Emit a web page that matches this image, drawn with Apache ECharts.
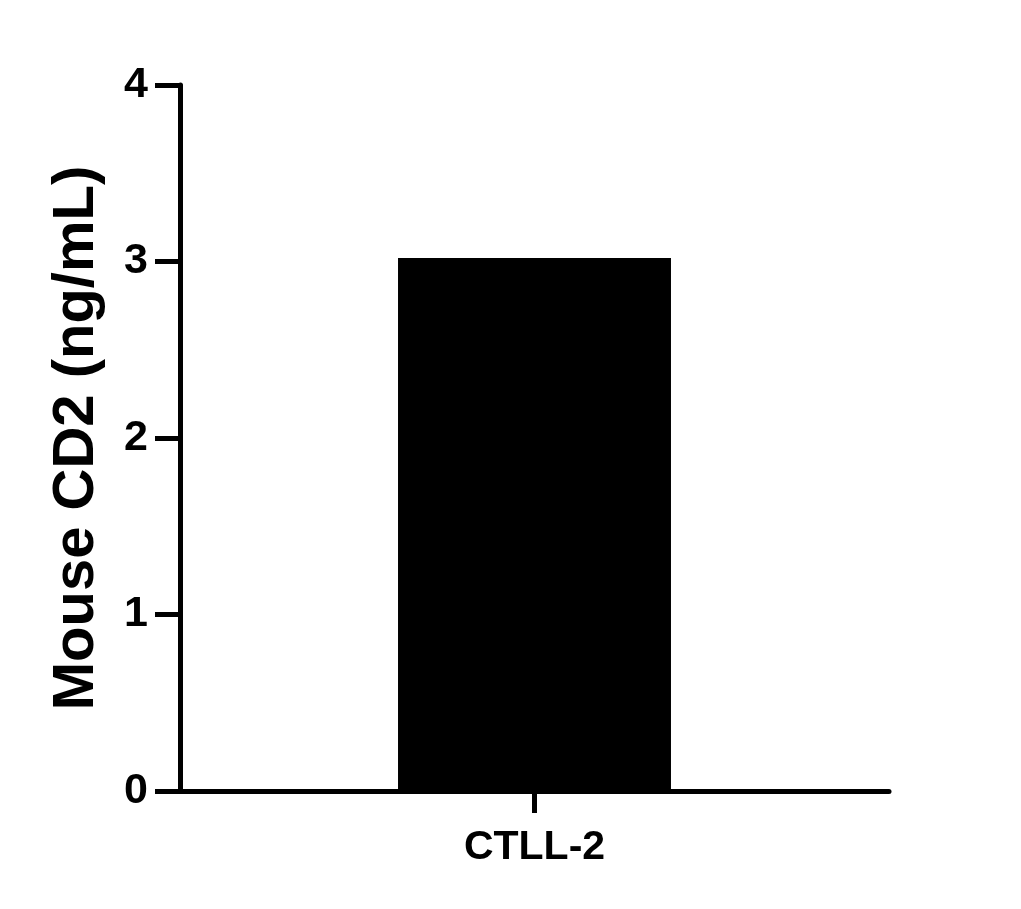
<!DOCTYPE html>
<html>
<head>
<meta charset="utf-8">
<script src="https://cdn.jsdelivr.net/npm/echarts@6/dist/echarts.min.js"></script>
<style>html,body{margin:0;padding:0;background:#fff}#c{width:1021px;height:909px}</style>
</head>
<body>
<div id="c"></div>
<script>
const categories = ["CTLL-2"];
const values = [3.02];
const yTicks = [0, 1, 2, 3, 4];
const yTitle = "Mouse CD2 (ng/mL)";

const chart = echarts.init(document.getElementById('c'), null, {renderer: 'canvas'});
const font = "'Liberation Sans', Arial, sans-serif";
chart.setOption({
  animation: false,
  backgroundColor: '#fff',
  grid: {left: 180, right: 132, top: 85, bottom: 118, containLabel: false},
  xAxis: {
    type: 'category',
    data: categories,
    axisLine: {lineStyle: {color: '#000', width: 5}},
    axisTick: {show: true, alignWithLabel: true, length: 22, lineStyle: {color: '#000', width: 5}},
    axisLabel: {color: '#000', fontSize: 41, fontWeight: 'bold', fontFamily: font, margin: 36}
  },
  yAxis: {
    type: 'value',
    min: yTicks[0], max: yTicks[yTicks.length - 1], interval: 1,
    name: yTitle,
    nameLocation: 'middle',
    nameGap: 74,
    nameTextStyle: {color: '#000', fontSize: 58, fontWeight: 'bold', fontFamily: font},
    axisLine: {show: true, lineStyle: {color: '#000', width: 5}},
    axisTick: {show: true, length: 25, lineStyle: {color: '#000', width: 5}},
    axisLabel: {color: '#000', fontSize: 43, fontWeight: 'bold', fontFamily: font, margin: 32},
    splitLine: {show: false}
  },
  series: [{
    type: 'bar',
    data: values,
    barWidth: '38.5%',
    itemStyle: {color: '#000'}
  }]
});
</script>
</body>
</html>
